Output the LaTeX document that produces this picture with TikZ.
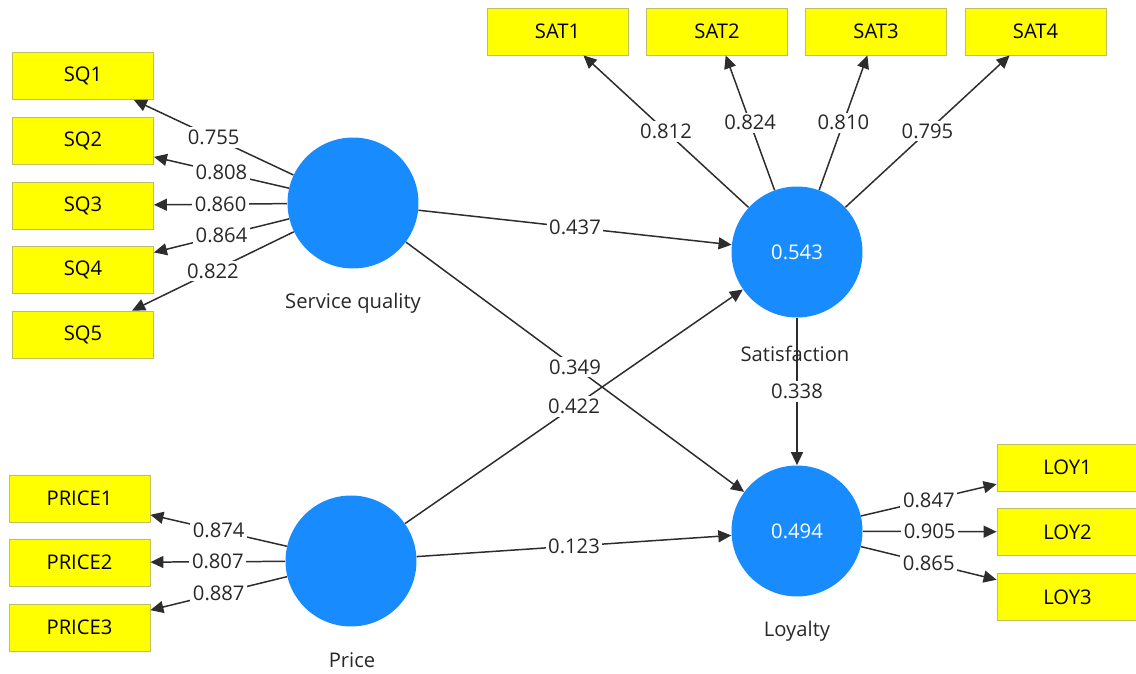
\documentclass[tikz,border=0pt]{standalone}
\usepackage{fontspec}
\setmainfont{Open Sans}
\usetikzlibrary{arrows.meta}

\definecolor{lvblue}{RGB}{24,140,255}
\definecolor{mvyellow}{RGB}{255,255,0}
\definecolor{mvedge}{RGB}{190,190,100}
\definecolor{linkgray}{RGB}{45,45,45}
\definecolor{txtgray}{RGB}{40,40,40}

\tikzset{
    indicator/.style={draw=mvedge, fill=mvyellow, line width=0.5pt,
        minimum width=2.82cm, minimum height=0.94cm, inner sep=0pt,
        font=\fontsize{11.5}{13}\selectfont},
    construct/.style={circle, fill=lvblue, minimum size=2.62cm, inner sep=0pt,
        text=white, font=\fontsize{11.5}{13}\selectfont},
    cname/.style={text=txtgray, font=\fontsize{11.5}{13}\selectfont},
    link/.style={draw=linkgray, line width=0.85pt,
        -{Triangle[length=0.26cm, width=0.24cm]}},
    coef/.style={fill=white, inner sep=1.5pt, text=txtgray,
        font=\fontsize{11.5}{13}\selectfont}
}

\begin{document}
\begin{tikzpicture}[x=0.02cm, y=-0.02cm]
    \useasboundingbox (0,0) rectangle (1136,673);

    % latent variables
    \node[construct] (sq)    at (353,203) {};
    \node[construct] (price) at (351,561) {};
    \node[construct] (sat)   at (797,252) {0.543};
    \node[construct] (loy)   at (797,531) {0.494};

    \node[cname] at (353,303) {Service quality};
    \node[cname] at (352,660) {Price};
    \node[cname] at (795,354) {Satisfaction};
    \node[cname] at (797,631) {Loyalty};

    % indicators
    \node[indicator] (sq1) at (83,76)    {SQ1};
    \node[indicator] (sq2) at (83,140.5) {SQ2};
    \node[indicator] (sq3) at (83,205.5) {SQ3};
    \node[indicator] (sq4) at (83,270)   {SQ4};
    \node[indicator] (sq5) at (83,334.5) {SQ5};

    \node[indicator] (price1) at (79.5,498.5) {PRICE1};
    \node[indicator] (price2) at (79.5,562.5) {PRICE2};
    \node[indicator] (price3) at (79.5,627.5) {PRICE3};

    \node[indicator] (sat1) at (557.5,31.5)  {SAT1};
    \node[indicator] (sat2) at (717,31.5)    {SAT2};
    \node[indicator] (sat3) at (876,31.5)    {SAT3};
    \node[indicator] (sat4) at (1035.5,31.5) {SAT4};

    \node[indicator] (loy1) at (1067.5,467.5) {LOY1};
    \node[indicator] (loy2) at (1067.5,532)   {LOY2};
    \node[indicator] (loy3) at (1067.5,597)   {LOY3};

    % outer loadings
    \draw[link] (sq) -- node[coef]{0.755} (sq1);
    \draw[link] (sq) -- node[coef]{0.808} (sq2);
    \draw[link] (sq) -- node[coef]{0.860} (sq3);
    \draw[link] (sq) -- node[coef]{0.864} (sq4);
    \draw[link] (sq) -- node[coef]{0.822} (sq5);

    \draw[link] (price) -- node[coef]{0.874} (price1);
    \draw[link] (price) -- node[coef]{0.807} (price2);
    \draw[link] (price) -- node[coef]{0.887} (price3);

    \draw[link] (sat) -- node[coef]{0.812} (sat1);
    \draw[link] (sat) -- node[coef]{0.824} (sat2);
    \draw[link] (sat) -- node[coef]{0.810} (sat3);
    \draw[link] (sat) -- node[coef]{0.795} (sat4);

    \draw[link] (loy) -- node[coef]{0.847} (loy1);
    \draw[link] (loy) -- node[coef]{0.905} (loy2);
    \draw[link] (loy) -- node[coef]{0.865} (loy3);

    % path coefficients
    \draw[link] (sq) -- node[coef]{0.437} (sat);
    \draw[link] (sq) -- node[coef]{0.349} (loy);
    \draw[link] (price) -- node[coef]{0.422} (sat);
    \draw[link] (price) -- node[coef]{0.123} (loy);
    \draw[link] (sat) -- node[coef]{0.338} (loy);
\end{tikzpicture}
\end{document}
